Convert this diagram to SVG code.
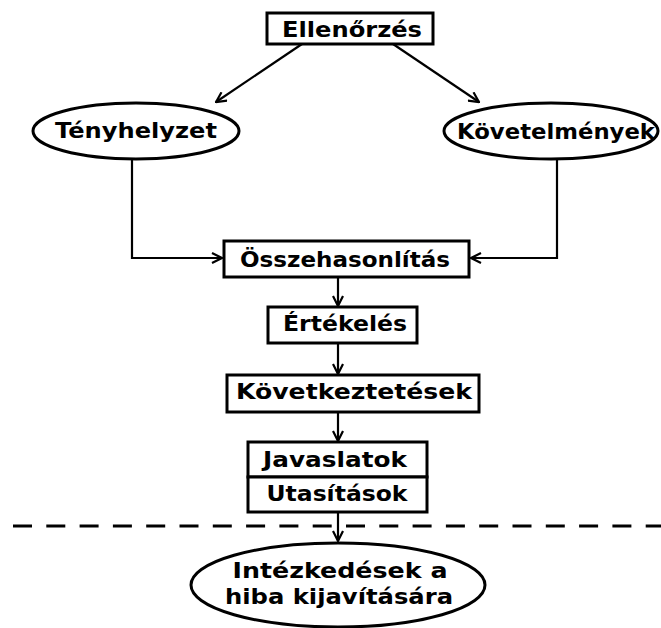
<svg xmlns="http://www.w3.org/2000/svg" width="661" height="628" viewBox="0 0 661 628">
<defs>
<marker id="arr" viewBox="0 0 12 12" refX="11" refY="6" markerWidth="12" markerHeight="12" markerUnits="userSpaceOnUse" orient="auto">
<polyline points="1,1 11,6 1,11" fill="none" stroke="#000" stroke-width="2.2"/>
</marker>
<style>
.box{fill:#fff;stroke:#000;stroke-width:3}
.ell{fill:#fff;stroke:#000;stroke-width:3}
.lbl{font-family:"DejaVu Sans","Liberation Sans",sans-serif;font-weight:bold;font-size:21.5px;fill:#000;text-anchor:middle}
.con{fill:none;stroke:#000;stroke-width:2.2;marker-end:url(#arr)}
</style>
</defs>
<rect width="661" height="628" fill="#fff"/>
<g id="connectors">
<line class="con" x1="302" y1="44" x2="216" y2="102"/>
<line class="con" x1="393" y1="44" x2="479" y2="102"/>
<polyline class="con" points="132,159 132,258 222,258"/>
<polyline class="con" points="557,159 557,258 471,258"/>
<line class="con" x1="338" y1="277" x2="338" y2="306"/>
<line class="con" x1="338" y1="343" x2="338" y2="374"/>
<line class="con" x1="338" y1="412" x2="338" y2="441"/>
<line class="con" x1="338" y1="512" x2="338" y2="541"/>
</g>
<g id="divider">
<line x1="13" y1="526" x2="661" y2="526" stroke="#000" stroke-width="3" stroke-dasharray="19 14.3"/>
</g>
<g id="ellenorzes">
<rect class="box" x="267" y="13" width="166" height="31"/>
<text class="lbl" x="352" y="37" textLength="140" lengthAdjust="spacingAndGlyphs">Ellenőrzés</text>
</g>
<g id="tenyhelyzet">
<ellipse class="ell" cx="136" cy="131" rx="103" ry="28"/>
<text class="lbl" x="136" y="138" textLength="162" lengthAdjust="spacingAndGlyphs">Tényhelyzet</text>
</g>
<g id="kovetelmenyek">
<ellipse class="ell" cx="551" cy="131" rx="107" ry="28"/>
<text class="lbl" x="556" y="139" textLength="198" lengthAdjust="spacingAndGlyphs">Követelmények</text>
</g>
<g id="osszehasonlitas">
<rect class="box" x="224" y="241" width="245" height="36"/>
<text class="lbl" x="345" y="267" textLength="210" lengthAdjust="spacingAndGlyphs">Összehasonlítás</text>
</g>
<g id="ertekeles">
<rect class="box" x="268" y="307" width="149" height="36"/>
<text class="lbl" x="345" y="331" textLength="124" lengthAdjust="spacingAndGlyphs">Értékelés</text>
</g>
<g id="kovetkeztetesek">
<rect class="box" x="227" y="375" width="252" height="37"/>
<text class="lbl" x="354" y="399" textLength="236" lengthAdjust="spacingAndGlyphs">Következtetések</text>
</g>
<g id="javaslatok">
<rect class="box" x="248" y="442" width="179" height="35"/>
<text class="lbl" x="335" y="467" textLength="144" lengthAdjust="spacingAndGlyphs">Javaslatok</text>
</g>
<g id="utasitasok">
<rect class="box" x="248" y="477" width="179" height="35"/>
<text class="lbl" x="337" y="501" textLength="141" lengthAdjust="spacingAndGlyphs">Utasítások</text>
</g>
<g id="intezkedesek">
<ellipse class="ell" cx="338" cy="585" rx="147" ry="42"/>
<text class="lbl" x="340" y="578" textLength="215" lengthAdjust="spacingAndGlyphs">Intézkedések a</text>
<text class="lbl" x="339" y="604" textLength="228" lengthAdjust="spacingAndGlyphs">hiba kijavítására</text>
</g>
</svg>
